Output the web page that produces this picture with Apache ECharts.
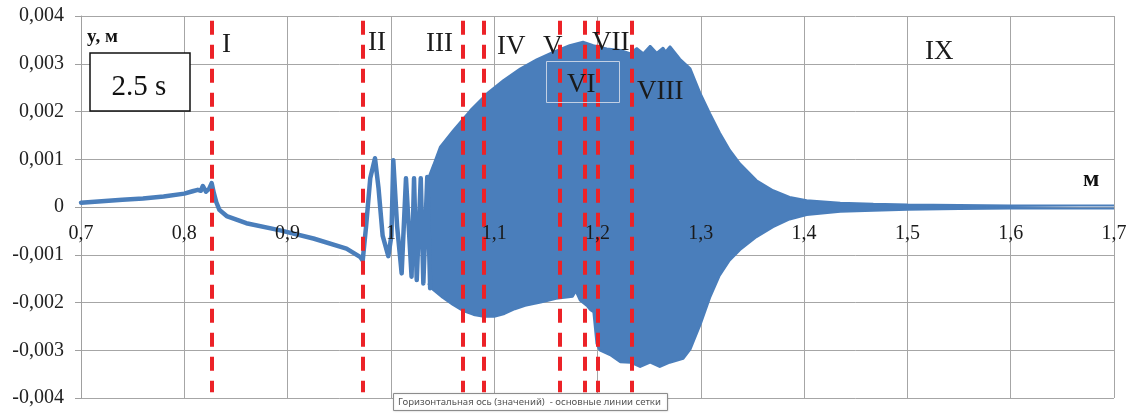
<!DOCTYPE html>
<html>
<head>
<meta charset="utf-8">
<script src="https://cdn.jsdelivr.net/npm/echarts@6/dist/echarts.min.js"></script>
<style>
  html, body { margin: 0; padding: 0; background: #ffffff; }
  #chart { width: 1136px; height: 414px; }
</style>
</head>
<body>
<div id="chart"></div>
<script>
// ---- data ----
// single trace before the dense oscillation (x in m, y in m)
const signal = [
  [0.700, 0.00009], [0.720, 0.00012], [0.740, 0.00015], [0.760, 0.00018],
  [0.780, 0.00022], [0.800, 0.00028], [0.808, 0.00033], [0.813, 0.00036],
  [0.816, 0.00034], [0.818, 0.00044], [0.821, 0.00032], [0.824, 0.00038],
  [0.8265, 0.00050], [0.8285, 0.00030], [0.831, 0.00010], [0.834, -0.00006],
  [0.841, -0.00019], [0.860, -0.00034], [0.893, -0.00049], [0.925, -0.00066],
  [0.957, -0.00087], [0.9705, -0.00105], [0.9727, -0.00112], [0.976, -0.00040],
  [0.980, 0.00060], [0.9846, 0.00102], [0.988, 0.00040], [0.992, -0.00060],
  [0.9975, -0.00103], [1.0005, -0.00060], [1.0023, 0.00098], [1.006, -0.00040],
  [1.0104, -0.00139], [1.0146, 0.00060], [1.0200, -0.00146], [1.0224, 0.00060],
  [1.0250, -0.00153], [1.0289, 0.00060], [1.0314, -0.00160], [1.0352, 0.00063],
  [1.0380, -0.00170]
];
// upper envelope of the dense oscillation
const upperEnvelope = [
  [1.036, 0.00060], [1.041, 0.00088], [1.0475, 0.00126], [1.060, 0.00160],
  [1.077, 0.00203], [1.093, 0.00238], [1.109, 0.00266], [1.125, 0.00290],
  [1.141, 0.00309], [1.157, 0.00325], [1.173, 0.00339], [1.186, 0.00346],
  [1.196, 0.00339], [1.209, 0.00332], [1.222, 0.00329], [1.2315, 0.00322],
  [1.238, 0.00333], [1.2444, 0.00322], [1.251, 0.00338], [1.2573, 0.00323],
  [1.2635, 0.00334], [1.266, 0.00326], [1.2702, 0.00337], [1.280, 0.00310],
  [1.290, 0.00290], [1.2993, 0.00240], [1.309, 0.00196], [1.3186, 0.00155],
  [1.3283, 0.00119], [1.338, 0.00091], [1.354, 0.00056], [1.370, 0.00035],
  [1.386, 0.00021], [1.4025, 0.00014], [1.435, 0.00009], [1.467, 0.00007],
  [1.500, 0.00005], [1.550, 0.00004], [1.600, 0.00003], [1.700, 0.00003]
];
// lower envelope of the dense oscillation
const lowerEnvelope = [
  [1.036, -0.00160], [1.040, -0.00172], [1.050, -0.00190], [1.060, -0.00205],
  [1.070, -0.00218], [1.080, -0.00226], [1.090, -0.00230], [1.100, -0.00230],
  [1.110, -0.00224], [1.120, -0.00214], [1.130, -0.00207], [1.145, -0.00200],
  [1.160, -0.00192], [1.176, -0.00188], [1.179, -0.00177], [1.183, -0.00196],
  [1.190, -0.00208], [1.193, -0.00216], [1.196, -0.00220], [1.199, -0.00286],
  [1.202, -0.00300], [1.212, -0.00310], [1.222, -0.00325], [1.232, -0.00326],
  [1.241, -0.00335], [1.251, -0.00326], [1.260, -0.00335], [1.270, -0.00326],
  [1.283, -0.00318], [1.290, -0.00298], [1.300, -0.00245], [1.309, -0.00190],
  [1.318, -0.00145], [1.328, -0.00112], [1.338, -0.00090], [1.354, -0.00063],
  [1.370, -0.00042], [1.386, -0.00026], [1.4025, -0.00017], [1.435, -0.00010],
  [1.467, -0.00008], [1.500, -0.00006], [1.550, -0.00004], [1.600, -0.00003],
  [1.700, -0.00003]
];
// zone boundaries (red dashed lines) and their labels
const boundaryX = [0.8265, 0.9727, 1.0695, 1.0901, 1.1637, 1.1879, 1.2002, 1.2334, 1.4985];
const boundaryLabels = ['I', 'II', 'III', 'IV', 'V', 'VI', 'VII', 'VIII', 'IX'];
const xTicks = { min: 0.7, max: 1.7, step: 0.1 };
const yTicks = { min: -0.004, max: 0.004, step: 0.001 };

// ---- chart ----
const BLUE = '#4a7ebb';
const RED = '#ec2227';
const SERIF = '"Liberation Serif", "Times New Roman", serif';

function commaNum(v, digits) {
  const n = Number(v.toFixed(digits));
  return String(n).replace('.', ',');
}

const markData = boundaryX.map((x, i) => {
  const last = i === boundaryX.length - 1;
  return [
    { coord: [x, last ? 0.0041 : 0.0039], lineStyle: { type: last ? [14, 6] : [14, 10] } },
    { coord: [x, last ? -0.0041 : -0.00388] }
  ];
});

// label placement (pixel positions, left aligned, vertically centred on caps)
const labelPos = [
  [222, 45], [368, 43], [426, 44], [497, 47], [543, 47],
  [567, 85], [592, 43], [637, 92], [925, 52]
];

const chart = echarts.init(document.getElementById('chart'), null, { renderer: 'canvas' });
const option = {
  animation: false,
  backgroundColor: '#ffffff',
  grid: { left: 81, right: 22, top: 16, bottom: 16, containLabel: false, outerBoundsMode: 'none' },
  xAxis: [
    { // grid lines + zero axis line (behind the data)
      type: 'value', position: 'bottom',
      min: xTicks.min, max: xTicks.max, interval: xTicks.step,
      offset: 0, z: 0,
      axisLine: { show: true, onZero: false, lineStyle: { color: '#a0a0a0', width: 1 } },
      axisTick: { show: false },
      axisLabel: { show: false },
      splitLine: { show: true, lineStyle: { color: '#a6a6a6', width: 1 } }
    },
    { // tick labels drawn above the data, as in the reference
      type: 'value', position: 'bottom',
      min: xTicks.min, max: xTicks.max, interval: xTicks.step,
      offset: 0, z: 20,
      axisLine: { show: false, onZero: false },
      axisTick: { show: false },
      splitLine: { show: false },
      axisLabel: {
        margin: 17,
        color: '#1a1a1a',
        fontFamily: SERIF,
        fontSize: 20,
        formatter: v => commaNum(v, 1)
      }
    }
  ],
  yAxis: {
    type: 'value',
    min: yTicks.min, max: yTicks.max, interval: yTicks.step,
    axisLine: { show: true, onZero: false, lineStyle: { color: '#a0a0a0', width: 1 } },
    axisTick: { show: true, inside: false, length: 6, lineStyle: { color: '#a0a0a0' } },
    axisLabel: {
      margin: 17,
      color: '#222222',
      fontFamily: SERIF,
      fontSize: 20,
      formatter: v => (Math.abs(v) < 1e-12 ? '0' : commaNum(v, 3))
    },
    splitLine: { show: true, lineStyle: { color: '#a6a6a6', width: 1 } }
  },
  series: [
    {
      name: 'upper', type: 'line', data: upperEnvelope, xAxisIndex: 0,
      showSymbol: false, symbol: 'none', z: 2,
      lineStyle: { color: BLUE, width: 2 },
      areaStyle: { color: BLUE, opacity: 1 }
    },
    {
      name: 'lower', type: 'line', data: lowerEnvelope, xAxisIndex: 0,
      showSymbol: false, symbol: 'none', z: 2,
      lineStyle: { color: BLUE, width: 2 },
      areaStyle: { color: BLUE, opacity: 1 }
    },
    {
      name: 'signal', type: 'line', data: signal, xAxisIndex: 0,
      showSymbol: false, symbol: 'none', z: 3,
      lineStyle: { color: BLUE, width: 4.5, join: 'round', cap: 'round' },
      markLine: {
        silent: true,
        symbol: ['none', 'none'],
        label: { show: false },
        lineStyle: { color: RED, width: 4, type: [14, 10] },
        data: markData
      }
    }
  ],
  graphic: [
    { type: 'rect', z: 50, shape: { x: 546.5, y: 61.5, width: 73, height: 41 },
      style: { fill: 'none', stroke: 'rgba(215,222,235,0.85)', lineWidth: 1 } },
    ...boundaryLabels.map((t, i) => ({
      type: 'text', z: 60,
      x: labelPos[i][0], y: labelPos[i][1],
      style: { text: t, font: '27px ' + SERIF, fill: '#1a1a1a', textAlign: 'left', textVerticalAlign: 'middle' }
    })),
    { type: 'text', z: 60, x: 87, y: 37,
      style: { text: 'y, м', font: 'bold 19px ' + SERIF, fill: '#111', textAlign: 'left', textVerticalAlign: 'middle' } },
    { type: 'rect', z: 55, shape: { x: 90, y: 53, width: 100, height: 58 },
      style: { fill: '#ffffff', stroke: '#111111', lineWidth: 1.5 } },
    { type: 'text', z: 60, x: 139, y: 87,
      style: { text: '2.5 s', font: '29px ' + SERIF, fill: '#111', textAlign: 'center', textVerticalAlign: 'middle' } },
    { type: 'text', z: 60, x: 1083, y: 180,
      style: { text: 'м', font: 'bold 24px ' + SERIF, fill: '#111', textAlign: 'left', textVerticalAlign: 'middle' } },
    { type: 'rect', z: 70, shape: { x: 393.5, y: 393.5, width: 274, height: 17 },
      style: { fill: '#ffffff', stroke: '#8c8c8c', lineWidth: 1, shadowColor: 'rgba(0,0,0,0.15)', shadowBlur: 2 } },
    { type: 'text', z: 71, x: 398, y: 402,
      style: { text: 'Горизонтальная ось (значений)  - основные линии сетки', font: '9.6px "Noto Sans", "DejaVu Sans", sans-serif', fill: '#555555', textAlign: 'left', textVerticalAlign: 'middle' } }
  ]
};
chart.setOption(option);
// move both x axes (line + labels) onto y = 0, using the library's own scale
const zeroY = chart.convertToPixel({ yAxisIndex: 0 }, 0);
const bottomY = chart.convertToPixel({ yAxisIndex: 0 }, yTicks.min);
const off = zeroY - bottomY;
chart.setOption({ xAxis: [{ offset: off }, { offset: off }] });
</script>
</body>
</html>
